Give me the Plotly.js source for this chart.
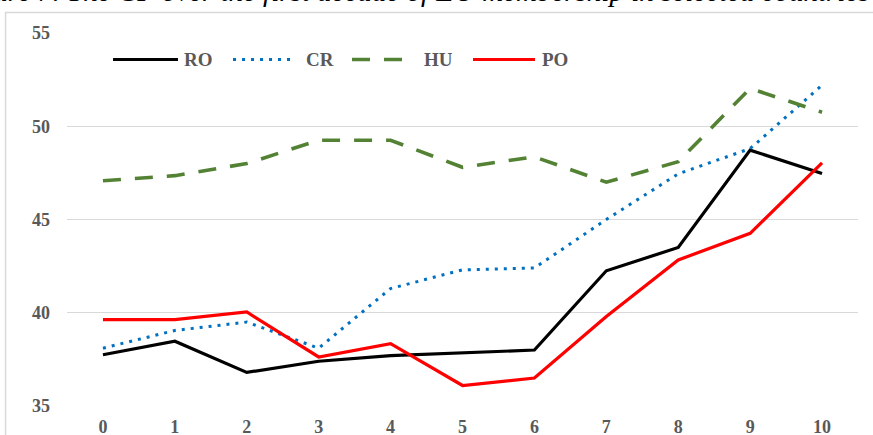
<!DOCTYPE html>
<html>
<head>
<meta charset="utf-8">
<script src="https://cdn.plot.ly/plotly-3.0.1.min.js"></script>
<style>
html,body{margin:0;padding:0;background:#fff;overflow:hidden;}
#chart{width:873px;height:435px;}
</style>
</head>
<body>
<div id="chart"></div>
<script>
const categories = ['0','1','2','3','4','5','6','7','8','9','10'];
const RO = [37.75, 38.47, 36.8, 37.4, 37.7, 37.85, 38.0, 42.25, 43.5, 48.72, 47.47];
const CR = [38.1, 39.05, 39.5, 38.1, 41.3, 42.3, 42.4, 45.0, 47.45, 48.8, 52.2];
const HU = [47.08, 47.35, 48.0, 49.25, 49.25, 47.8, 48.36, 47.0, 48.1, 52.03, 50.75];
const PO = [39.63, 39.63, 40.04, 37.63, 38.34, 36.1, 36.5, 39.8, 42.83, 44.26, 48.04];
const seriesNames = ['RO','CR','HU','PO'];
const titleText = 'Figure 7. The CP over the first decade of EU membership in selected countries';

const styles = {
  RO: {color:'#000000', width:3.2, dash:'solid'},
  CR: {color:'#0070C0', width:3, dash:'3px,6px'},
  HU: {color:'#548235', width:3.6, dash:'18px,14px'},
  PO: {color:'#FF0000', width:3.2, dash:'solid'}
};
const values = {RO, CR, HU, PO};

const traces = seriesNames.map(n => ({
  type:'scatter', mode:'lines', name:n,
  x: categories, y: values[n],
  line: {color: styles[n].color, width: styles[n].width, dash: styles[n].dash},
  showlegend:false, hoverinfo:'skip'
}));

const serif = '"Liberation Serif", "Times New Roman", serif';
const tickFont = {family:serif, size:18, color:'#595959', weight:'bold'};

// manual legend (paper coords)
const legY = 0.929;
const legItems = [
  {n:'RO', x0:0.0582, x1:0.1403, tx:0.1454},
  {n:'CR', x0:0.2099, x1:0.2857, tx:0.2996},
  {n:'HU', x0:0.3603, x1:0.4248, tx:0.4488},
  {n:'PO', x0:0.5133, x1:0.5917, tx:0.5980}
];
const shapes = [
  {type:'rect', xref:'paper', yref:'paper', x0:-0.0777, x1:1.2, y0:-0.3, y1:1.0548,
   line:{color:'#d9d9d9', width:1.5}, fillcolor:'rgba(0,0,0,0)', layer:'below'}
];
const annotations = [];
legItems.forEach(it => {
  const s = styles[it.n];
  shapes.push({type:'line', xref:'paper', yref:'paper', x0:it.x0, x1:it.x1, y0:legY, y1:legY,
    line:{color:s.color, width:s.width, dash:s.dash}});
  annotations.push({xref:'paper', yref:'paper', x:it.tx, y:legY, xanchor:'left', yanchor:'middle',
    text:it.n, showarrow:false, font:{family:serif, size:19, color:'#595959', weight:'bold'}});
});
annotations.push({xref:'paper', yref:'paper', x:1.0177, y:1.0656, xanchor:'right', yanchor:'bottom',
  text:'<i>'+titleText+'</i>', showarrow:false,
  font:{family:serif, size:29, color:'#000000'}});

const layout = {
  width:873, height:435,
  margin:{l:67, r:15, t:32.5, b:28.5, pad:0},
  paper_bgcolor:'#ffffff', plot_bgcolor:'#ffffff',
  showlegend:false,
  xaxis:{type:'category', range:[-0.5,10.5], showgrid:false, zeroline:false, showline:false, ticks:'',
    tickfont:tickFont, ticklabelstandoff:8, fixedrange:true},
  yaxis:{range:[35,55], dtick:5, tick0:35, showgrid:true, gridcolor:'#d9d9d9', gridwidth:1,
    zeroline:false, showline:false, ticks:'', tickfont:tickFont, ticklabelstandoff:16, fixedrange:true},
  shapes, annotations
};

Plotly.newPlot('chart', traces, layout, {displayModeBar:false, staticPlot:true});
</script>
</body>
</html>
